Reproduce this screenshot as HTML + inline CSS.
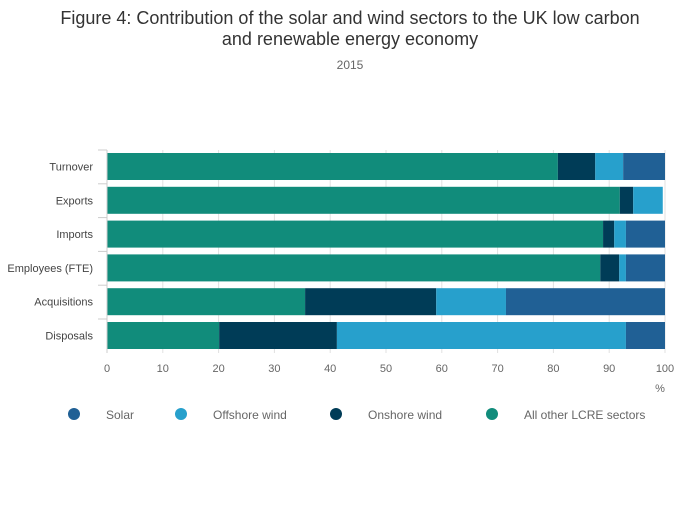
<!DOCTYPE html>
<html><head><meta charset="utf-8"><style>
body{margin:0;background:#fff;font-family:"Liberation Sans",sans-serif;}
svg text{font-family:"Liberation Sans",sans-serif;}
</style></head><body>
<svg id="chart" width="700" height="502" viewBox="0 0 700 502">
<text x="350" y="24" text-anchor="middle" font-size="18" fill="#333">Figure 4: Contribution of the solar and wind sectors to the UK low carbon</text>
<text x="350" y="45" text-anchor="middle" font-size="18" fill="#333">and renewable energy economy</text>
<text x="350" y="69" text-anchor="middle" font-size="12" fill="#666">2015</text>
<g id="grid"></g><g id="bars"></g><g id="axes"></g><g id="legend"></g>
</svg>
<script>
const categories=["Turnover","Exports","Imports","Employees (FTE)","Acquisitions","Disposals"];
const seriesNames=["All other LCRE sectors","Onshore wind","Offshore wind","Solar"];
const otherVals=[80.8,91.9,88.9,88.4,35.5,20.1];
const onshoreVals=[6.7,2.4,2.0,3.4,23.5,21.1];
const offshoreVals=[5.0,5.3,2.1,1.2,12.5,51.8];
const solarVals=[7.5,0,7.0,7.0,28.5,7.0];
const xTicks=[0,10,20,30,40,50,60,70,80,90,100];
const colors=["#118c7b","#003c57","#27a0cc","#206095"];
const ns="http://www.w3.org/2000/svg";
const X0=107,X1=665,Y0=150,BAND=33.8,BH=27;
const xs=v=>X0+(X1-X0)*v/100;
const yb=i=>Y0+i*BAND+3;
function mk(t,a,p){const e=document.createElementNS(ns,t);for(const k in a)e.setAttribute(k,a[k]);document.getElementById(p).appendChild(e);return e;}
xTicks.forEach(t=>{
 const l=mk("line",{x1:xs(t),x2:xs(t),y1:Y0,y2:353,stroke:"#e0e0e0"},"grid");
 
 
 const tx=mk("text",{x:xs(t),y:372,"text-anchor":"middle","font-size":11,fill:"#666"},"axes");
 tx.textContent=t;
 
 
});
const all=[otherVals,onshoreVals,offshoreVals,solarVals];
categories.forEach((c,i)=>{
 let acc=0;
 all.forEach((s,j)=>{
  const v=s[i];
  if(v>0){const r=mk("rect",{x:xs(acc),y:yb(i),width:xs(acc+v)-xs(acc),height:BH,fill:colors[j]},"bars");
  
  }
  acc+=v;
 });
 const tx=mk("text",{x:93,y:yb(i)+BH/2+4,"text-anchor":"end","font-size":11,fill:"#444"},"axes");
 tx.textContent=c;
 
 
 const tk=mk("line",{x1:98,x2:107,y1:Y0+i*BAND,y2:Y0+i*BAND,stroke:"#ccc"},"axes");
 
 
});
const ax=mk("line",{x1:107,x2:107,y1:Y0,y2:353,stroke:"#ccc"},"axes");


const pu=mk("text",{x:660,y:392,"text-anchor":"middle","font-size":11,fill:"#666"},"axes");
pu.textContent="%";


const legOrder=[3,2,1,0],legX=[74,181,336,492];
legOrder.forEach((j,k)=>{
 const c=mk("circle",{cx:legX[k],cy:414,r:6,fill:colors[j]},"legend");
 
 
 const t=mk("text",{x:legX[k]+32,y:419,"font-size":12,fill:"#666"},"legend");
 t.textContent=seriesNames[j];
 
 
});
</script>
</body></html>
